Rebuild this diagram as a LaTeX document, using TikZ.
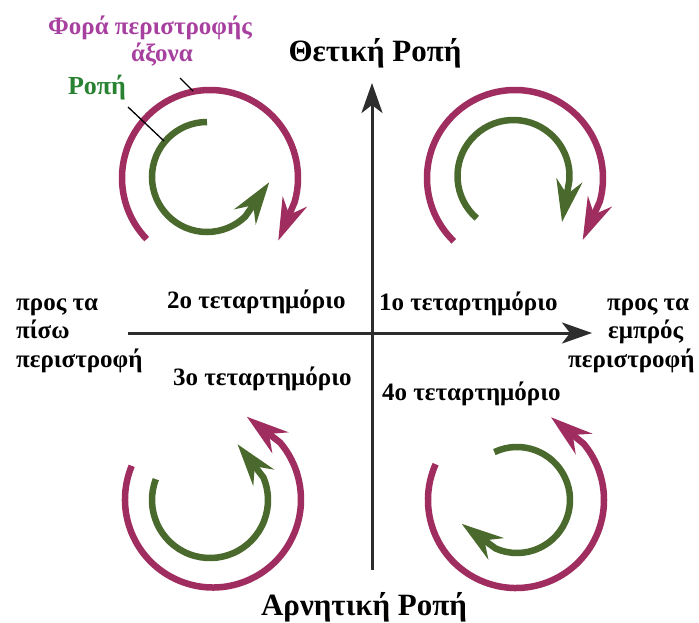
\documentclass[tikz,border=0pt]{standalone}
\usepackage{fontspec}
\setmainfont{Liberation Serif}
\usetikzlibrary{arrows.meta}
\definecolor{arcmag}{RGB}{160,45,95}
\definecolor{arcgrn}{RGB}{74,105,45}
\definecolor{txtpur}{RGB}{168,64,160}
\definecolor{txtgrn}{RGB}{40,130,50}
\definecolor{axisgray}{RGB}{45,45,45}
\begin{document}
\begin{tikzpicture}[x=1pt,y=-1pt,
  quad/.style={font=\bfseries\fontsize{25}{29}\selectfont, inner sep=0pt, anchor=base west},
  title/.style={font=\bfseries\fontsize{31}{36}\selectfont, inner sep=0pt, anchor=base},
  side/.style={font=\bfseries\fontsize{25}{29}\selectfont, inner sep=0pt, anchor=base west},
  note/.style={font=\bfseries\fontsize{26}{30}\selectfont, inner sep=0pt, anchor=base},
  axisnote/.style={font=\bfseries\fontsize{25}{29}\selectfont, inner sep=0pt, anchor=base, text=txtpur},
  axisline/.style={draw=axisgray, line width=3pt, -{Stealth[length=30pt,width=21pt,inset=8pt]}},
  magarc/.style={draw=arcmag, line width=6.5pt, -{Stealth[length=42pt,width=26pt,inset=14pt]}},
  grnarc/.style={draw=arcgrn, line width=6.5pt, -{Stealth[length=42pt,width=26pt,inset=14pt]}},
  leader/.style={draw=black, line width=1.3pt}]
\useasboundingbox (0,0) rectangle (699,623);
\fill[white] (0,0) rectangle (699,623);

% axes
\coordinate (vbot) at (372,570);
\coordinate (vtop) at (372,83);
\coordinate (hleft) at (128,333);
\coordinate (hright) at (592,333);
\draw[axisline] (vbot) -- (vtop);
\draw[axisline] (hleft) -- (hright);

% centres
\coordinate (c1m) at (210,178);
\coordinate (c1g) at (207,177);
\coordinate (c2m) at (515,178);
\coordinate (c2g) at (513.5,176);
\coordinate (c3m) at (213,499.5);
\coordinate (c3g) at (210,500);
\coordinate (c4m) at (516,500);
\coordinate (c4g) at (517,500);

% top-left
\draw[magarc] ([shift={(136:88)}]c1m) arc[start angle=136, end angle=375.8, radius=88] -- ++(113:42);
\draw[grnarc] ([shift={(270:55)}]c1g) arc[start angle=270, end angle=46, radius=55] -- ++(-55:42);
% top-right
\draw[magarc] ([shift={(134:88)}]c2m) arc[start angle=134, end angle=375.6, radius=88] -- ++(114:42);
\draw[grnarc] ([shift={(131:56)}]c2g) arc[start angle=131, end angle=364.8, radius=56] -- ++(100:42);
% bottom-left
\draw[magarc] ([shift={(202.5:88)}]c3m) arc[start angle=202.5, end angle=-40.4, radius=88] -- ++(217.8:42);
\draw[grnarc] ([shift={(201:58)}]c3g) arc[start angle=201, end angle=-23, radius=58] -- ++(232:42);
% bottom-right
\draw[magarc] ([shift={(204:88)}]c4m) arc[start angle=204, end angle=-39.8, radius=88] -- ++(219:42);
\draw[grnarc] ([shift={(244.7:53)}]c4g) arc[start angle=244.7, end angle=473.7, radius=53] -- ++(216:42);

% titles
\node[title] (pos) at (375,62) {Θετική Ροπή};
\node[title] (neg) at (364,615) {Αρνητική Ροπή};

% quadrant labels
\node[quad] (q2) at (167,308) {2ο τεταρτημόριο};
\node[quad] (q1) at (379,310) {1ο τεταρτημόριο};
\node[quad] (q3) at (173,385) {3ο τεταρτημόριο};
\node[quad] (q4) at (382,400) {4ο τεταρτημόριο};

% side labels
\node[side] (bk1) at (16,310) {προς τα};
\node[side] (bk2) at (16,338) {πίσω};
\node[side] (bk3) at (16,367) {περιστροφή};
\node[side] (fw1) at (607,310) {προς τα};
\node[side] (fw2) at (608,338) {εμπρός};
\node[side] (fw3) at (568,367) {περιστροφή};

% legend
\node[axisnote] (ax1) at (150,35) {Φορά περιστροφής};
\node[axisnote] (ax2) at (162,62) {άξονα};
\node[note, text=txtgrn] (rop) at (97,95) {Ροπή};
\coordinate (l1s) at (180,78);
\coordinate (l1e) at (193,91);
\coordinate (l2s) at (128,107);
\coordinate (l2e) at (164,141);
\draw[leader] (l1s) -- (l1e);
\draw[leader] (l2s) -- (l2e);
\end{tikzpicture}
\end{document}
